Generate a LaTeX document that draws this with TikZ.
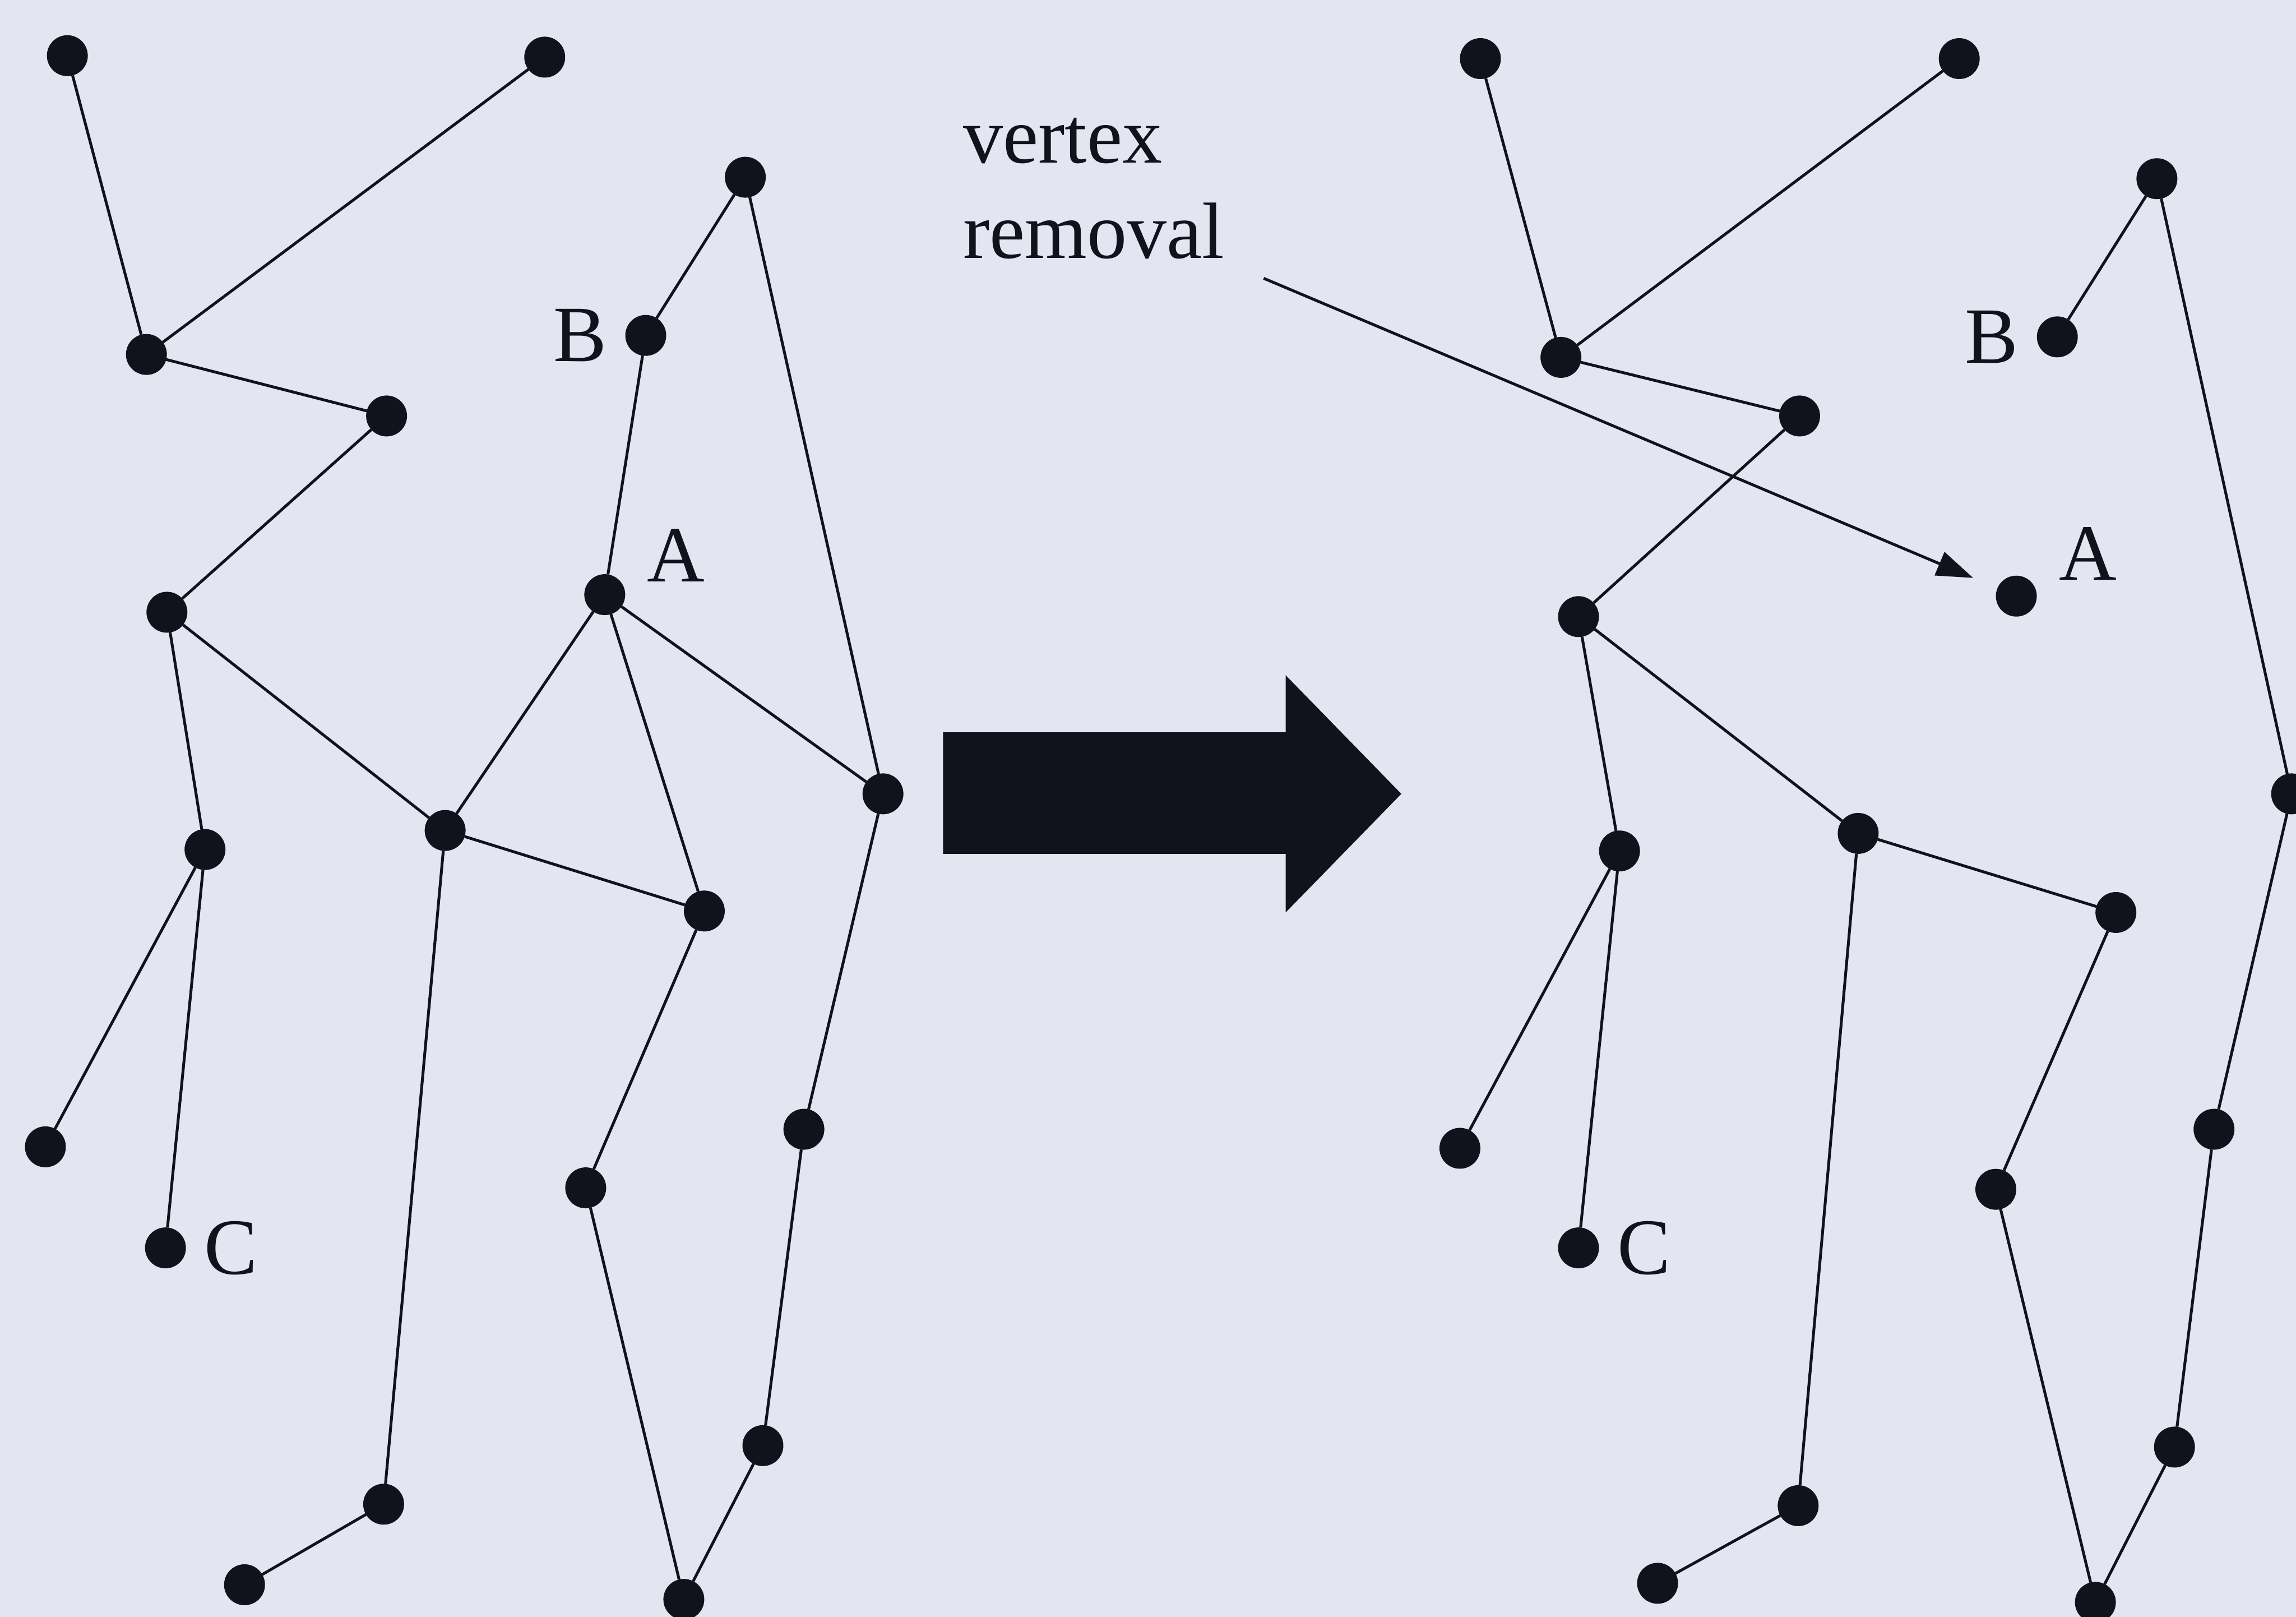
\documentclass[tikz,border=0pt]{standalone}
\usepackage{fontspec}
\setmainfont{Liberation Serif}
\usepackage{tikz}
\usetikzlibrary{arrows.meta}
\definecolor{paper}{RGB}{227,230,241}
\definecolor{ink}{RGB}{18,18,28}
\tikzset{vtx/.style={shape=circle, draw=ink, fill=ink, inner sep=0pt, minimum size=2.6mm}}

\begin{document}
\begin{tikzpicture}[x=0.1mm, y=-0.1mm, line width=0.55pt, ink, font=\fontsize{15.5}{18.5}\selectfont]

    \fill[paper] (0,0) rectangle (1568,1104);
    \useasboundingbox (0,0) rectangle (1568,1104);

    % before
    \node[vtx] (l1) at (46,38) {};
    \node[vtx] (l2) at (372,39) {};
    \node[vtx] (l3) at (100,242) {};
    \node[vtx] (l4) at (264,284) {};
    \node[vtx] (l5) at (114,418) {};
    \node[vtx] (l6) at (140,580) {};
    \node[vtx] (l7) at (31,783) {};
    \node[vtx, label=right:C] (lC) at (113,852) {};
    \node[vtx] (l9) at (304,567) {};
    \node[vtx, label={[yshift=-2.6pt,xshift=1pt]22:A}] (lA) at (413,406) {};
    \node[vtx, label=left:B] (lB) at (441,229) {};
    \node[vtx] (l12) at (509,121) {};
    \node[vtx] (l13) at (603,542) {};
    \node[vtx] (l14) at (481,622) {};
    \node[vtx] (l15) at (400,811) {};
    \node[vtx] (l16) at (549,771) {};
    \node[vtx] (l17) at (521,987) {};
    \node[vtx] (l18) at (467,1092) {};
    \node[vtx] (l19) at (262,1027) {};
    \node[vtx] (l20) at (167,1082) {};

    \draw (l1) -- (l3);
    \draw (l2) -- (l3);
    \draw (l3) -- (l4);
    \draw (l4) -- (l5);
    \draw (l5) -- (l6);
    \draw (l6) -- (l7);
    \draw (l6) -- (lC);
    \draw (l5) -- (l9);
    \draw (l9) -- (lA);
    \draw (lA) -- (lB);
    \draw (lB) -- (l12);
    \draw (l12) -- (l13);
    \draw (lA) -- (l13);
    \draw (lA) -- (l14);
    \draw (l9) -- (l14);
    \draw (l14) -- (l15);
    \draw (l15) -- (l18);
    \draw (l18) -- (l17);
    \draw (l17) -- (l16);
    \draw (l16) -- (l13);
    \draw (l9) -- (l19);
    \draw (l19) -- (l20);

    % block arrow
    \fill[ink] (644,500) -- (878,500) -- (878,461) -- (957,542) -- (878,623) -- (878,583) -- (644,583) -- cycle;

    % after
    \node[vtx] (r1) at (1011,40) {};
    \node[vtx] (r2) at (1338,40) {};
    \node[vtx] (r3) at (1066,244) {};
    \node[vtx] (r4) at (1229,284) {};
    \node[vtx] (r5) at (1078,421) {};
    \node[vtx] (r6) at (1106,581) {};
    \node[vtx] (r7) at (997,784) {};
    \node[vtx, label=right:C] (rC) at (1078,852) {};
    \node[vtx] (r9) at (1269,569) {};
    \node[vtx, label={[yshift=-2pt,xshift=1pt]22:A}] (rA) at (1377,407) {};
    \node[vtx, label=left:B] (rB) at (1405,230) {};
    \node[vtx] (r12) at (1473,122) {};
    \node[vtx] (r13) at (1565,542) {};
    \node[vtx] (r14) at (1445,623) {};
    \node[vtx] (r15) at (1363,812) {};
    \node[vtx] (r16) at (1512,771) {};
    \node[vtx] (r17) at (1485,988) {};
    \node[vtx] (r18) at (1431,1094) {};
    \node[vtx] (r19) at (1228,1028) {};
    \node[vtx] (r20) at (1132,1081) {};

    \draw (r1) -- (r3);
    \draw (r2) -- (r3);
    \draw (r3) -- (r4);
    \draw (r4) -- (r5);
    \draw (r5) -- (r6);
    \draw (r6) -- (r7);
    \draw (r6) -- (rC);
    \draw (r5) -- (r9);
    \draw (rB) -- (r12);
    \draw (r12) -- (r13);
    \draw (r9) -- (r14);
    \draw (r14) -- (r15);
    \draw (r15) -- (r18);
    \draw (r18) -- (r17);
    \draw (r17) -- (r16);
    \draw (r16) -- (r13);
    \draw (r9) -- (r19);
    \draw (r19) -- (r20);

    % label and pointer
    \node[align=left, anchor=north west] (rmvlabel) at (645,68) {vertex\\removal};
    \coordinate (rmv) at (863,190);
    \draw[-{Triangle[length=2.5mm,width=1.7mm]}, shorten >=1.8mm] (rmv) -- (rA);

\end{tikzpicture}
\end{document}
